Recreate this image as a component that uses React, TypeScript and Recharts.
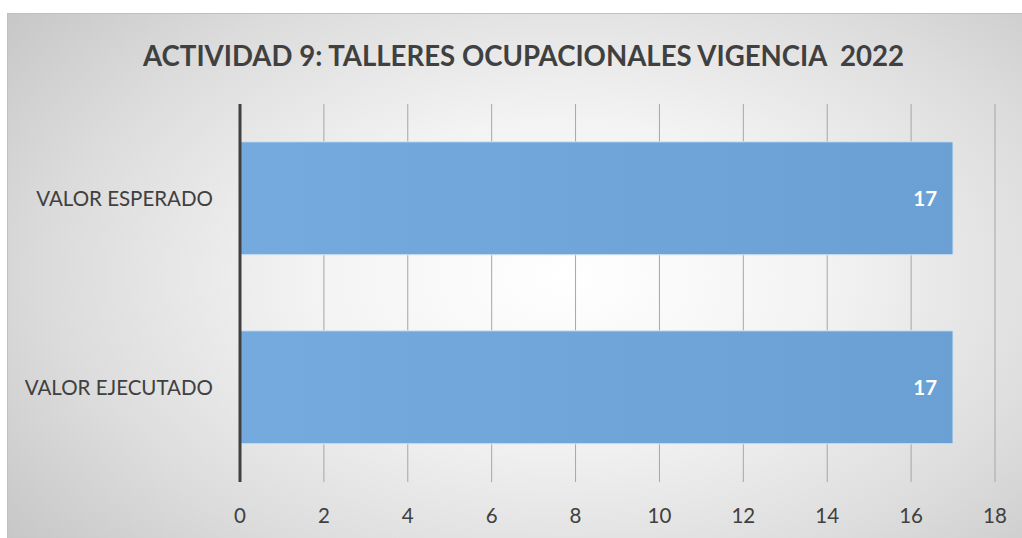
import React from "react";
import { BarChart, Bar, XAxis, YAxis, CartesianGrid, LabelList } from "recharts";

const categories = ["VALOR ESPERADO", "VALOR EJECUTADO"];
const values = [17, 17];
const xTicks = [0, 2, 4, 6, 8, 10, 12, 14, 16, 18];
const title = "ACTIVIDAD 9: TALLERES OCUPACIONALES VIGENCIA\u00a0 2022";

const data = categories.map((c, i) => ({ name: c, value: values[i] }));

const FONT = "Lato, 'Open Sans', 'Noto Sans', sans-serif";

export default function App() {
  return (
    <div
      style={{
        position: "absolute",
        left: 7,
        top: 13,
        width: 1015,
        height: 525,
        borderTop: "1px solid #c0c0c0",
        borderLeft: "1px solid #c0c0c0",
        boxSizing: "border-box",
        background:
          "radial-gradient(ellipse 72% 85% at 55% 50%, #ffffff 0%, #f3f3f3 35%, #dcdcdc 70%, #c4c4c4 100%)",
        fontFamily: FONT,
      }}
    >
      <div
        style={{
          position: "absolute",
          left: 0,
          top: 25,
          width: 1031,
          textAlign: "center",
          fontSize: 27.6,
          fontWeight: 700,
          color: "#404040",
          fontFamily: FONT,
          whiteSpace: "pre",
        }}
      >
        {title}
      </div>
      <div style={{ position: "absolute", left: -1, top: -1 }}>
        <BarChart
          width={1015}
          height={525}
          data={data}
          layout="vertical"
          margin={{ top: 91, right: 27, left: 0, bottom: 0 }}
          barCategoryGap="20%"
        >
          <defs>
            <linearGradient id="barFill" x1="0" y1="0" x2="1" y2="0">
              <stop offset="0%" stopColor="#74aadd" />
              <stop offset="100%" stopColor="#6aa0d4" />
            </linearGradient>
          </defs>
          <CartesianGrid horizontal={false} stroke="#a6a6a6" strokeWidth={1} />
          <XAxis
            type="number"
            domain={[0, 18]}
            ticks={xTicks}
            axisLine={false}
            tickLine={false}
            tickMargin={20}
            height={56}
            tick={{ fill: "#404040", fontSize: 20.5, fontFamily: FONT }}
            interval={0}
          />
          <YAxis
            type="category"
            dataKey="name"
            width={233}
            axisLine={{ stroke: "#404040", strokeWidth: 3 }}
            tickLine={false}
            tickSize={0}
            tickMargin={27}
            tick={{ fill: "#404040", fontSize: 20.5, fontFamily: FONT }}
          />
          <Bar
            dataKey="value"
            fill="url(#barFill)"
            stroke="#d6e6f5"
            strokeWidth={1}
            isAnimationActive={false}
          >
            <LabelList
              dataKey="value"
              position="insideRight"
              offset={16}
              fill="#ffffff"
              fontSize={20.5}
              fontWeight={700}
              fontFamily={FONT}
            />
          </Bar>
        </BarChart>
      </div>
    </div>
  );
}
